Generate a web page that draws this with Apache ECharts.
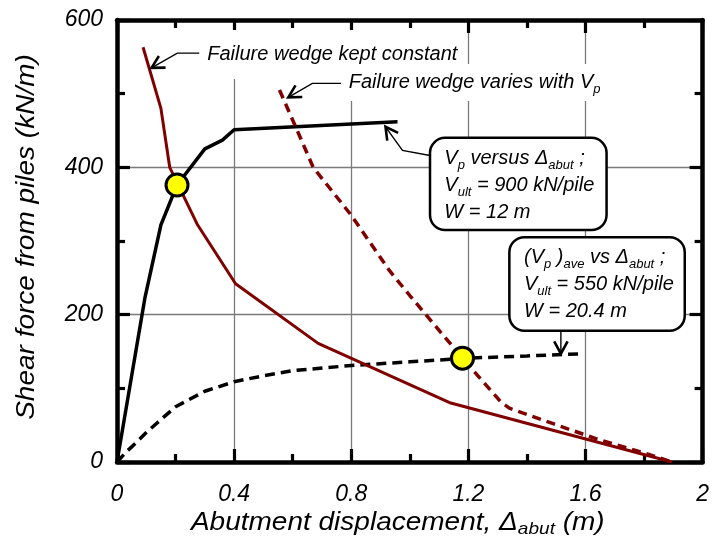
<!DOCTYPE html>
<html><head><meta charset="utf-8">
<script src="https://cdn.jsdelivr.net/npm/echarts@6/dist/echarts.min.js"></script>
<style>html,body{margin:0;padding:0;background:#fff}#c{width:712px;height:539px}</style>
</head><body><div id="c"></div>
<script>
// ---- data ----
const xTickLabels = {0:'0',0.4:'0.4',0.8:'0.8',1.2:'1.2',1.6:'1.6',2:'2'};
const yTickLabels = {0:'0',200:'200',400:'400',600:'600'};
const xTitle = 'Abutment displacement, Δ';
const xTitleSub = 'abut';
const xTitleEnd = ' (m)';
const yTitle = 'Shear force from piles (kN/m)';
// V_p versus Δabut (Vult = 900 kN/pile, W = 12 m)
const vpCurve = [[0,0],[0.095,222],[0.15,322],[0.205,376],[0.3,425],[0.36,437],[0.4,451],[0.958,462]];
// (V_p)ave versus Δabut (Vult = 550 kN/pile, W = 20.4 m)
const vpAveCurve = [[0,0],[0.03,13],[0.07,28],[0.1,40],[0.134,52],[0.2,75],[0.3,96],[0.4,109],[0.5,117],[0.6,124],[0.8,131],[1.0,136],[1.2,141],[1.4,144],[1.59,147]];
// Failure wedge kept constant
const wedgeConstCurve = [[0.089,563],[0.15,480],[0.18,400],[0.275,322],[0.405,242],[0.687,161],[1.14,80],[1.895,0]];
// Failure wedge varies with V_p
const wedgeVaryCurve = [[0.555,505],[0.62,446],[0.67,400],[0.8,335],[0.93,260],[1.0,226],[1.18,141],[1.31,82],[1.34,73],[1.49,52],[1.64,31],[1.804,12],[1.895,0]];
// intersection points
const intersections = [[0.205,376],[1.18,141]];

// ---- chart ----
const FONT = '"Liberation Sans", Arial, sans-serif';
const chart = echarts.init(document.getElementById('c'), null, {renderer:'canvas'});
const axisLine = {show:true, onZero:false, lineStyle:{color:'#000', width:4.5}};
const axisTick = {show:true, inside:true, length:13, lineStyle:{color:'#000', width:3.2}};
const minorTick = {show:true, splitNumber:2, length:8, lineStyle:{color:'#000', width:3.2}};
const gridLine = {show:true, lineStyle:{color:'#7a7a7a', width:1.3}};
const lblStyle = {fontSize:23, fontStyle:'italic', fontFamily:FONT, color:'#000'};

chart.setOption({
  animation:false,
  backgroundColor:'#fff',
  grid:{left:117, right:4, top:20, bottom:77, containLabel:false},
  xAxis:[
    {type:'value', min:0, max:2, interval:0.4, position:'bottom',
     axisLine, axisTick, minorTick, splitLine:gridLine,
     axisLabel:Object.assign({margin:21, formatter:v=>xTickLabels[Math.round(v*10)/10] ?? ''}, lblStyle)},
    {type:'value', min:0, max:2, interval:0.4, position:'top',
     axisLine, axisTick, minorTick, splitLine:{show:false}, axisLabel:{show:false}}
  ],
  yAxis:[
    {type:'value', min:0, max:600, interval:200, position:'left',
     axisLine, axisTick, minorTick, splitLine:gridLine,
     axisLabel:Object.assign({margin:14, formatter:v=>yTickLabels[v] ?? ''}, lblStyle)},
    {type:'value', min:0, max:600, interval:200, position:'right',
     axisLine, axisTick, minorTick, splitLine:{show:false}, axisLabel:{show:false}}
  ],
  series:[
    {type:'line', data:vpAveCurve, symbol:'none',
     lineStyle:{color:'#000', width:3.5, type:[10,6]}, z:3},
    {type:'line', data:vpCurve, symbol:'none', lineStyle:{color:'#000', width:3.5}, z:3},
    {type:'line', data:wedgeConstCurve, symbol:'none', lineStyle:{color:'#800000', width:3}, z:4},
    {type:'line', data:wedgeVaryCurve, symbol:'none', lineStyle:{color:'#800000', width:3.5, type:[9,6]}, z:4},
    {type:'scatter', data:intersections, symbol:'circle', symbolSize:22,
     itemStyle:{color:'#ffff00', borderColor:'#000', borderWidth:3, opacity:1}, z:10}
  ]
});

// ---- annotations (anchored in data coordinates) ----
const px = p => chart.convertToPixel({gridIndex:0}, p);
function head(tip, from, len, ang){
  const dx=from[0]-tip[0], dy=from[1]-tip[1], d=Math.hypot(dx,dy), ux=dx/d, uy=dy/d;
  const r=a=>[tip[0]+len*(ux*Math.cos(a)-uy*Math.sin(a)), tip[1]+len*(ux*Math.sin(a)+uy*Math.cos(a))];
  return [r(ang), tip, r(-ang)];
}
function arrow(ptsData){
  const pts = ptsData.map(px);
  return [
    {type:'polyline', shape:{points:pts}, style:{stroke:'#000', lineWidth:1.4, fill:null}, z:50},
    {type:'polyline', shape:{points:head(pts[pts.length-1], pts[pts.length-2], 14, 0.5)}, style:{stroke:'#000', lineWidth:2.6, fill:null}, z:50}
  ];
}
const rich = {
  i:{fontSize:20, fontStyle:'italic', fontFamily:FONT, fill:'#000', lineHeight:27},
  s:{fontSize:13, fontStyle:'italic', fontFamily:FONT, fill:'#000', verticalAlign:'bottom', lineHeight:14}
};
function label(anchor, text, pad){
  const p = px(anchor);
  return {type:'text', x:p[0], y:p[1], z:40,
    style:{text, rich, fontSize:20, fontStyle:'italic', fontFamily:FONT, fill:'#000',
      verticalAlign:'middle', align:'left', backgroundColor:'#fff', padding:pad}};
}
function box(tl, br, textAnchor, text){
  const a = px(tl), b = px(br), t = px(textAnchor);
  return [
    {type:'rect', shape:{x:a[0], y:a[1], width:b[0]-a[0], height:b[1]-a[1], r:15},
     style:{fill:'#fff', stroke:'#000', lineWidth:2.5}, z:40},
    {type:'text', x:t[0], y:t[1], z:41,
     style:{text, rich, fontSize:20, fontStyle:'italic', fontFamily:FONT, fill:'#000', verticalAlign:'top', align:'left'}}
  ];
}
// axis titles (slightly wide lettering, as in the original)
const titleRich = {
  t:{fontSize:25, fontStyle:'italic', fontFamily:FONT, fill:'#000', lineHeight:30},
  s:{fontSize:17, fontStyle:'italic', fontFamily:FONT, fill:'#000', verticalAlign:'bottom', lineHeight:17}
};
const gl = chart.getModel().getComponent('grid').coordinateSystem.getRect();
const graphic = [].concat(
  {type:'text', x:gl.x + gl.width/2 - 12, y:523, scaleX:1.12, z:30,
   style:{text:'{t|'+xTitle+'}{s|'+xTitleSub+'}{t|'+xTitleEnd+'}', rich:titleRich, align:'center', verticalAlign:'middle'}},
  {type:'text', x:27, y:gl.y + gl.height/2 - 4, rotation:Math.PI/2, scaleX:1.12, z:30,
   style:{text:'{t|'+yTitle+'}', rich:titleRich, align:'center', verticalAlign:'middle'}},
  label([0.298,553], '{i|Failure wedge kept constant}', [11,3,11,3]),
  arrow([[0.281,555],[0.206,555],[0.118,535]]),
  label([0.781,515], '{i|Failure wedge varies with V}{s|p}', [5,3,5,3]),
  arrow([[0.765,514],[0.667,514],[0.585,495]]),
  box([1.069,440],[1.672,315],[1.118,430], '{i|V}{s|p}{i| versus Δ}{s|abut}{i| ;}\n{i|V}{s|ult}{i| = 900 kN/pile}\n{i|W = 12 m}'),
  arrow([[1.069,416],[0.975,423],[0.917,455]]),
  box([1.34,305],[1.939,178],[1.39,296], '{i|(V}{s|p}{i| )}{s|ave}{i| vs Δ}{s|abut}{i| ;}\n{i|V}{s|ult}{i| = 550 kN/pile}\n{i|W = 20.4 m}'),
  arrow([[1.516,178],[1.516,147]])
);
chart.setOption({graphic});
</script>
</body></html>
